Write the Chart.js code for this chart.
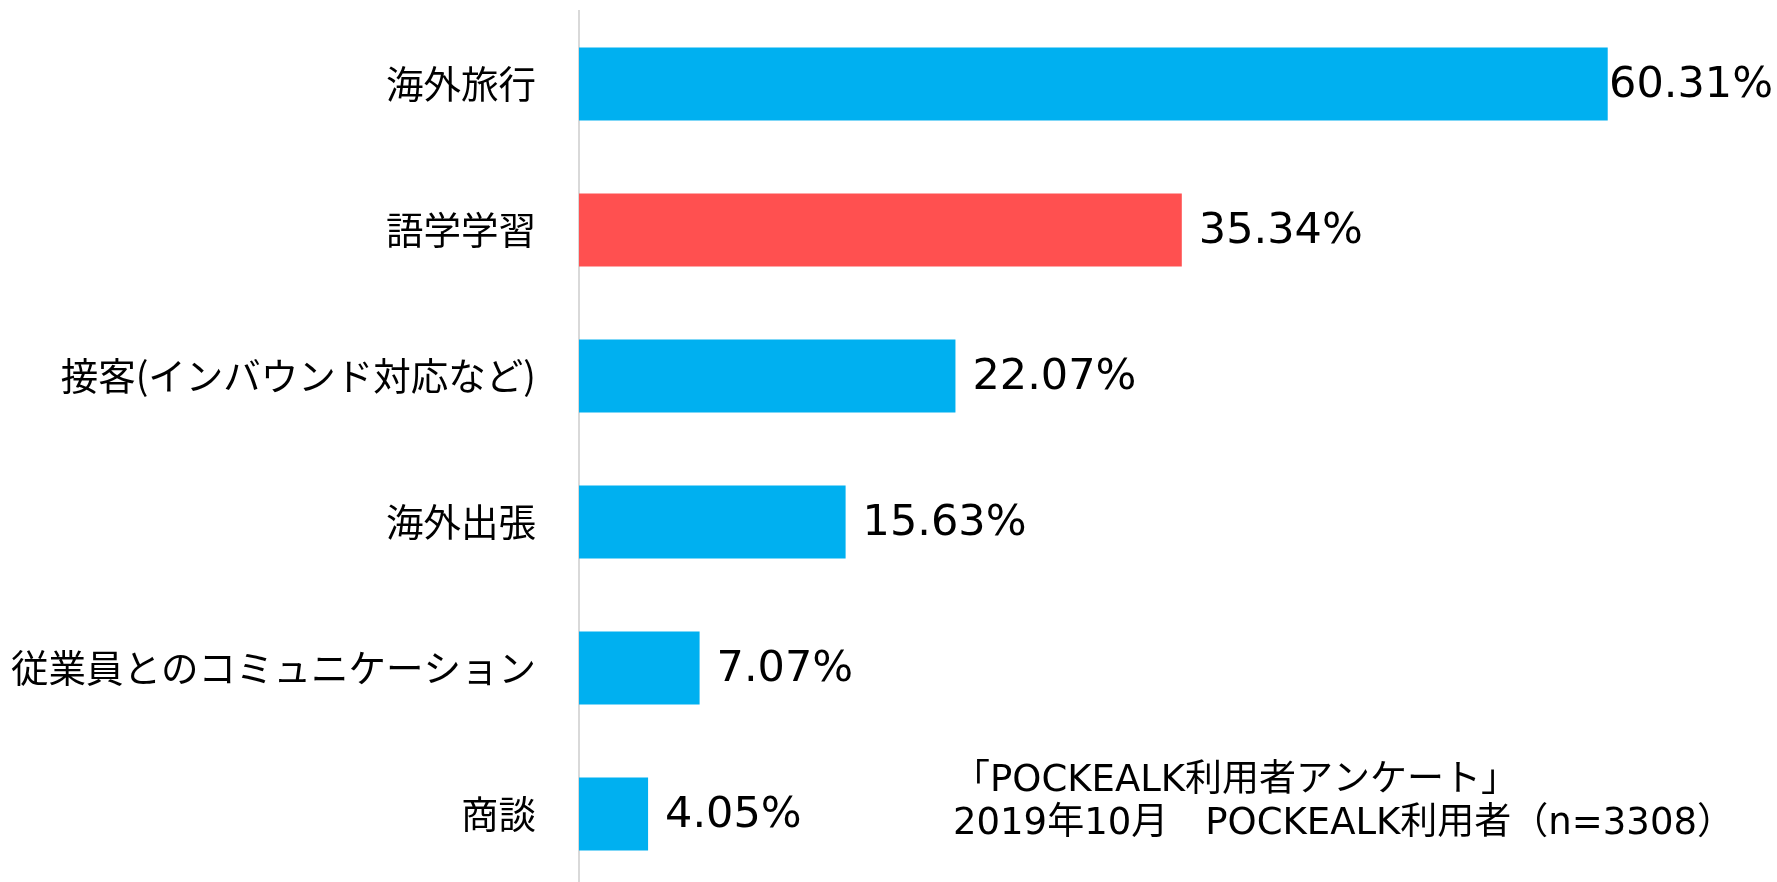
<!DOCTYPE html>
<html lang="ja">
<head>
<meta charset="utf-8">
<script src="https://cdn.jsdelivr.net/npm/chart.js@4.4.0/dist/chart.umd.min.js"></script>
<style>
  html, body { margin: 0; padding: 0; background: #fff; overflow: hidden; }
</style>
</head>
<body>
<canvas id="chart" width="1777" height="888"></canvas>
<script>
const categories = ['海外旅行', '語学学習', '接客(インバウンド対応など)', '海外出張', '従業員とのコミュニケーション', '商談'];
const shares = [60.31, 35.34, 22.07, 15.63, 7.07, 4.05];
const barColors = ['#00B0F0', '#FF5050', '#00B0F0', '#00B0F0', '#00B0F0', '#00B0F0'];
const noteLines = ['「POCKEALK利用者アンケート」', '2019年10月　POCKEALK利用者（n=3308）'];

// percentage text right after each bar end, pulled back if it would run off the canvas
const valueLabels = {
  id: 'valueLabels',
  afterDatasetsDraw(chart) {
    const ctx = chart.ctx;
    const meta = chart.getDatasetMeta(0);
    ctx.save();
    ctx.font = '43px "DejaVu Sans", sans-serif';
    ctx.fillStyle = '#000';
    ctx.textAlign = 'left';
    ctx.textBaseline = 'middle';
    meta.data.forEach((bar, i) => {
      const txt = shares[i].toFixed(2) + '%';
      const w = ctx.measureText(txt).width;
      const x = Math.min(bar.x + 17, chart.width - w - 4);
      ctx.fillText(txt, x, bar.y + 2);
    });
    ctx.restore();
  }
};

// survey source note, bottom right
const sourceNote = {
  id: 'sourceNote',
  afterDraw(chart) {
    const ctx = chart.ctx;
    ctx.save();
    ctx.font = '37px "DejaVu Sans", "Noto Sans CJK JP", sans-serif';
    ctx.fillStyle = '#000';
    ctx.textAlign = 'left';
    ctx.textBaseline = 'alphabetic';
    ctx.fillText(noteLines[0], 953, 791);
    ctx.fillText(noteLines[1], 953, 834);
    ctx.restore();
  }
};

new Chart(document.getElementById('chart'), {
  type: 'bar',
  data: {
    labels: categories,
    datasets: [{
      data: shares,
      backgroundColor: barColors,
      borderWidth: 0,
      barPercentage: 0.5,
      categoryPercentage: 1
    }]
  },
  options: {
    indexAxis: 'y',
    responsive: false,
    animation: false,
    layout: { padding: { top: 11, right: 4, bottom: 1, left: 0 } },
    plugins: { legend: { display: false }, tooltip: { enabled: false } },
    scales: {
      x: { display: false, min: 0, max: 70 },
      y: {
        afterFit(scale) {
          scale.width = 579;
          scale.paddingTop = 0;
          scale.paddingBottom = 0;
        },
        grid: { display: false, drawTicks: false },
        border: { display: true, color: '#d9d9d9', width: 2 },
        ticks: {
          color: '#000',
          padding: 43,
          font: { family: '"Noto Sans CJK JP", sans-serif', size: 37.5 }
        }
      }
    }
  },
  plugins: [valueLabels, sourceNote]
});
</script>
</body>
</html>
